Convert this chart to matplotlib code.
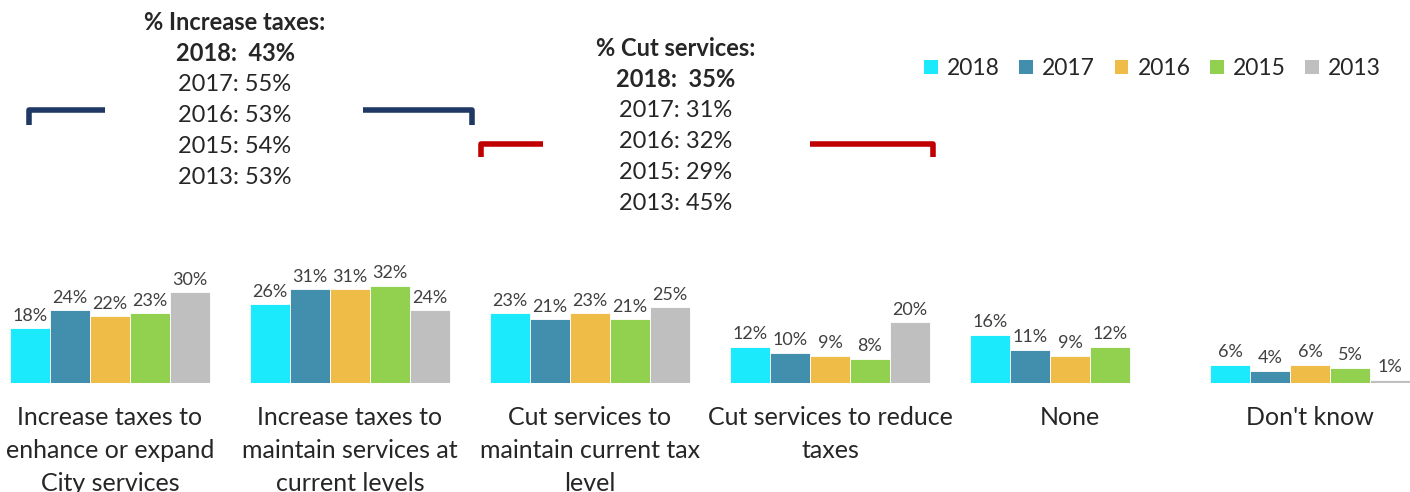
import numpy as np
import matplotlib.pyplot as plt

plt.rcParams['font.family'] = ['Lato', 'DejaVu Sans']

categories = [
    "Increase taxes to\nenhance or expand\nCity services",
    "Increase taxes to\nmaintain services at\ncurrent levels",
    "Cut services to\nmaintain current tax\nlevel",
    "Cut services to reduce\ntaxes",
    "None",
    "Don't know",
]
years = ["2018", "2017", "2016", "2015", "2013"]
v2018 = [18, 26, 23, 12, 16, 6]
v2017 = [24, 31, 21, 10, 11, 4]
v2016 = [22, 31, 23, 9, 9, 6]
v2015 = [23, 32, 21, 8, 12, 5]
v2013 = [30, 24, 25, 20, None, 1]
series = [v2018, v2017, v2016, v2015, v2013]
colors = ["#1BEAFD", "#428EAD", "#F0BC48", "#92D050", "#BFBFBF"]

increase_years = ["2018", "2017", "2016", "2015", "2013"]
increase_totals = [43, 55, 53, 54, 53]
cut_years = ["2018", "2017", "2016", "2015", "2013"]
cut_totals = [35, 31, 32, 29, 45]

txt = "#262626"
W, H = 1410, 492
fig = plt.figure(figsize=(W / 100, H / 100), dpi=100)

# bar axes: baseline at y=383 px, ~3.03 px per percent
base = 383
ppu = 3.03
top = base - 50 * ppu
ax = fig.add_axes([0, 1 - base / H, 1, (base - top) / H])
ax.set_ylim(0, 50)
ax.set_xlim(-110 / 240, 5 + 100 / 240)

x = np.arange(len(categories))
bw = 1 / 6
for i, (vals, col, yr) in enumerate(zip(series, colors, years)):
    xs = x - 2 * bw + i * bw
    for xi, v in zip(xs, vals):
        if v is None:
            continue
        ax.bar(xi, v, width=bw, color=col, edgecolor="white", linewidth=0.6)
        ax.text(xi, v + 1.5, f"{v}%", ha="center", va="bottom",
                fontsize=13, color="#404040")
    ax.bar(0, 0, color=col, label=yr)

for xi, lab in zip(x, categories):
    ax.text(xi, -(406 - base) / ppu, lab, ha="center", va="top",
            fontsize=18, color=txt, linespacing=1.52, clip_on=False)
ax.set_xticks([])
ax.set_yticks([])
for s in ax.spines.values():
    s.set_visible(False)

fig.legend(loc="upper right", bbox_to_anchor=(1381 / W, 1 - 58 / H), ncol=5,
           frameon=False, borderpad=0, borderaxespad=0,
           fontsize=16.5, handlelength=0.6, handleheight=0.6, handletextpad=0.4,
           columnspacing=0.85, labelcolor=txt)

# overlay for annotations (pixel coords)
ov = fig.add_axes([0, 0, 1, 1], zorder=-1)
ov.set_xlim(0, W)
ov.set_ylim(H, 0)
ov.axis("off")


def bracket(x0, x1, gap0, gap1, y, drop, col):
    kw = dict(color=col, lw=4, solid_capstyle="butt", solid_joinstyle="round")
    ov.plot([x0, x0, gap0], [y + drop, y, y], **kw)
    ov.plot([gap1, x1, x1], [y, y, y + drop], **kw)


bracket(29, 472, 105, 363, 110, 15, "#1F3864")
bracket(481, 933, 543, 810, 144, 13, "#C00000")


def block(cx, y0, title, yrs, vals):
    ov.text(cx, y0, title, ha="center", va="center", fontsize=17,
            fontweight="bold", color=txt)
    for k, (yr, v) in enumerate(zip(yrs, vals)):
        bold = k == 0
        s = f"{yr}:  {v}%" if bold else f"{yr}: {v}%"
        ov.text(cx, y0 + 31.2 * (k + 1), s, ha="center", va="center",
                fontsize=17, fontweight="bold" if bold else "normal", color=txt)


block(235, 22, "% Increase taxes:", increase_years, increase_totals)
block(676, 48, "% Cut services:", cut_years, cut_totals)

fig.savefig("out.png", dpi=100)
